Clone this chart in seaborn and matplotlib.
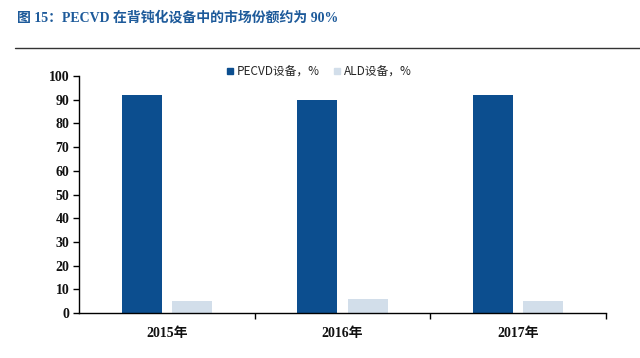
import matplotlib
matplotlib.use("Agg")
import matplotlib.pyplot as plt
import seaborn as sns
import pandas as pd
from matplotlib.lines import Line2D

years = ["2015年", "2016年", "2017年"]
series_names = ["PECVD设备，%", "ALD设备，%"]
pecvd = [92, 90, 92]
ald = [5, 6, 5]
title = "图 15：PECVD 在背钝化设备中的市场份额约为 90%"

df = pd.DataFrame({
    "year": years * 2,
    "series": [series_names[0]] * 3 + [series_names[1]] * 3,
    "value": pecvd + ald,
})

sns.set_theme(style="white")
plt.rcParams['font.family'] = ['Liberation Serif', 'Noto Sans CJK SC', 'DejaVu Sans']

fig = plt.figure(figsize=(6.4, 3.58), dpi=100)
ax = fig.add_axes([79/640, 45/358, 527/640, 237/358])

colors = ["#0C4E8F", "#D2DEEA"]
sns.barplot(data=df, x="year", y="value", hue="series", palette=colors,
            width=0.57, gap=0.2, ax=ax, saturation=1, legend=False, linewidth=0)

ax.set_ylim(0, 100)
ax.set_xlim(-0.5, 2.5)
ax.set_yticks(range(0, 101, 10))
ax.set_xlabel("")
ax.set_ylabel("")
for s in ["top", "right"]:
    ax.spines[s].set_visible(False)
for s in ["left", "bottom"]:
    ax.spines[s].set_color("black")
    ax.spines[s].set_linewidth(1.0)

ax.tick_params(axis="y", which="major", left=True, length=4, width=1, color="black",
               pad=3, labelsize=10)
ax.tick_params(axis="x", which="major", bottom=False, length=0, pad=10, labelsize=10)
ax.set_xticks([0.5, 1.5, 2.5], minor=True)
ax.tick_params(axis="x", which="minor", bottom=True, length=4, width=1, color="black")
for lab in ax.get_yticklabels() + ax.get_xticklabels():
    lab.set_fontweight("bold")
    lab.set_color("#111111")

handles = [Line2D([], [], marker="s", linestyle="", markersize=5, color=c) for c in colors]
ax.legend(handles, series_names, loc="upper center", bbox_to_anchor=(0.453, 1.09),
          ncol=2, frameon=False, handletextpad=0.05, columnspacing=1.0,
          handlelength=1.0, prop={"family": ["Noto Sans CJK SC"], "size": 8.5})

fig.text(17/640, 1 - 18/358, title, color="#1D5A9A", fontsize=10, fontweight="bold",
         va="center", ha="left", family=["Liberation Serif", "Noto Sans CJK SC"])
fig.add_artist(Line2D([15/640, 1.0], [1 - 48/358, 1 - 48/358], color="#333333", lw=1,
                      transform=fig.transFigure))

fig.savefig("out.png", dpi=100)
